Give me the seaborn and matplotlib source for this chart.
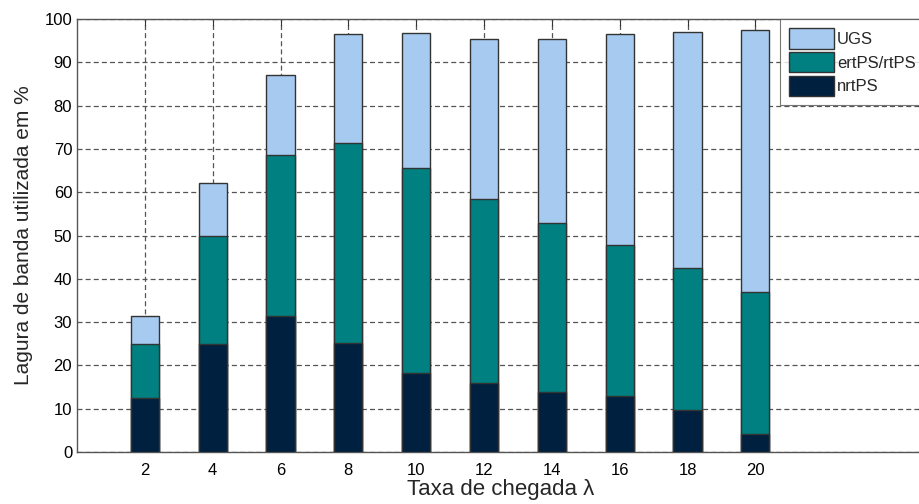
import numpy as np
import pandas as pd
import matplotlib
matplotlib.use("Agg")
import matplotlib.pyplot as plt
import seaborn as sns

# Arrival rate and bandwidth share per service class (%)
taxa = [2, 4, 6, 8, 10, 12, 14, 16, 18, 20]
nrtps = [12.5, 25.0, 31.5, 25.2, 18.2, 16.0, 13.9, 13.0, 9.7, 4.2]
ertps_rtps = [12.4, 25.0, 37.0, 46.2, 47.5, 42.5, 38.9, 34.8, 32.7, 32.7]
ugs = [6.6, 12.2, 18.6, 25.1, 31.0, 36.9, 42.6, 48.7, 54.5, 60.5]

series = ["UGS", "ertPS/rtPS", "nrtPS"]
colors = {"UGS": "#A6CAF0", "ertPS/rtPS": "#008080", "nrtPS": "#002040"}

df = pd.DataFrame({"taxa": taxa, "nrtPS": nrtps, "ertPS/rtPS": ertps_rtps, "UGS": ugs})
# cumulative tops for stacking
df["top_nrtPS"] = df["nrtPS"]
df["top_ertPS/rtPS"] = df["nrtPS"] + df["ertPS/rtPS"]
df["top_UGS"] = df["top_ertPS/rtPS"] + df["UGS"]

sns.set_style("white")
plt.rcParams["font.family"] = ["Liberation Sans", "DejaVu Sans"]

fig = plt.figure(figsize=(9.19, 5.04), dpi=100)
ax = fig.add_axes([77 / 919, 52 / 504, 848 / 919, 433 / 504])

for name in series:
    sns.barplot(data=df, x="taxa", y="top_" + name, native_scale=True,
                width=0.415, color=colors[name], edgecolor="#333333",
                linewidth=1.0, saturation=1, ax=ax, label=name, zorder=3)

ax.set_xlim(0, 25)
ax.set_ylim(0, 100)
ax.set_xticks(taxa)
ax.set_yticks(np.arange(0, 101, 10))
ax.tick_params(axis="both", direction="in", length=5, labelsize=12,
               top=True, right=True, colors="#333333", labelcolor="black")
ax.tick_params(axis="x", pad=8)
ax.grid(True, linestyle=(0, (4, 2.5)), color="#555555", linewidth=0.9, zorder=0)
ax.set_axisbelow(True)
for sp in ax.spines.values():
    sp.set_color("#555555")
    sp.set_linewidth(1.0)

ax.set_xlabel("Taxa de chegada λ", fontsize=16, labelpad=1)
ax.set_ylabel("Lagura de banda utilizada em %", fontsize=15, labelpad=8)

leg = ax.legend(loc="upper right", bbox_to_anchor=(1.0, 1.0), fontsize=12,
                frameon=True, fancybox=False, edgecolor="#555555",
                handlelength=2.7, handleheight=1.5, borderaxespad=0.0,
                borderpad=0.55, labelspacing=0.2, handletextpad=0.2)
leg.get_frame().set_linewidth(0.8)
for h in leg.legend_handles:
    h.set_edgecolor("#333333")

fig.savefig("out.png", dpi=100)
